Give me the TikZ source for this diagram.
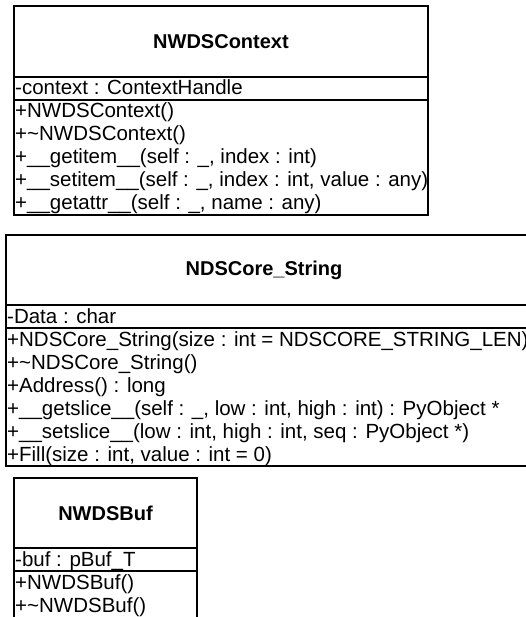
\documentclass[tikz,border=0pt]{standalone}
\usepackage{fontspec}
\setmainfont{Liberation Sans}
\begin{document}
\begin{tikzpicture}[x=1pt,y=-1pt,
  box/.style={draw=black, line width=1.3pt},
  classtitle/.style={font=\fontsize{20}{24}\selectfont\bfseries, inner sep=0pt},
  member/.style={font=\fontsize{20.5}{23}\selectfont, inner sep=0pt, anchor=base west},
]
\useasboundingbox (0,0) rectangle (526,617);
\clip (0,0) rectangle (526,617);
\fill[white] (0,0) rectangle (526,617);

% ---- NWDSContext ----
\draw[box] (14,6) rectangle (428,215);
\draw[box] (14,77) -- (428,77);
\draw[box] (14,100) -- (428,100);
\node[classtitle] (t1) at (221,41.5) {NWDSContext};
\node[member] (a1) at (15,95) {-context : ContextHandle};
\node[member] (m11) at (15,118) {+NWDSContext()};
\node[member] (m12) at (15,141) {+\textasciitilde NWDSContext()};
\node[member] (m13) at (15,164) {+\_\_getitem\_\_(self : \_, index : int)};
\node[member] (m14) at (15,187) {+\_\_setitem\_\_(self : \_, index : int, value : any)};
\node[member] (m15) at (15,210) {+\_\_getattr\_\_(self : \_, name : any)};

% ---- NDSCore_String ----
\draw[box] (6,235) rectangle (545,466);
\draw[box] (6,305) -- (545,305);
\draw[box] (6,328) -- (545,328);
\node[classtitle] (t2) at (264,270) {NDSCore\_String};
\node[member] (a2) at (7,323) {-Data : char};
\node[member] (m21) at (7,346) {+NDSCore\_String(size : int = NDSCORE\_STRING\_LEN)};
\node[member] (m22) at (7,369) {+\textasciitilde NDSCore\_String()};
\node[member] (m23) at (7,392) {+Address() : long};
\node[member] (m24) at (7,415) {+\_\_getslice\_\_(self : \_, low : int, high : int) : PyObject *};
\node[member] (m25) at (7,438) {+\_\_setslice\_\_(low : int, high : int, seq : PyObject *)};
\node[member] (m26) at (7,461) {+Fill(size : int, value : int = 0)};

% ---- NWDSBuf ----
\draw[box] (14,478) rectangle (197,650);
\draw[box] (14,548) -- (197,548);
\draw[box] (14,571) -- (197,571);
\node[classtitle] (t3) at (105.5,513) {NWDSBuf};
\node[member] (a3) at (15,566) {-buf : pBuf\_T};
\node[member] (m31) at (15,589) {+NWDSBuf()};
\node[member] (m32) at (15,612) {+\textasciitilde NWDSBuf()};
\end{tikzpicture}
\end{document}
